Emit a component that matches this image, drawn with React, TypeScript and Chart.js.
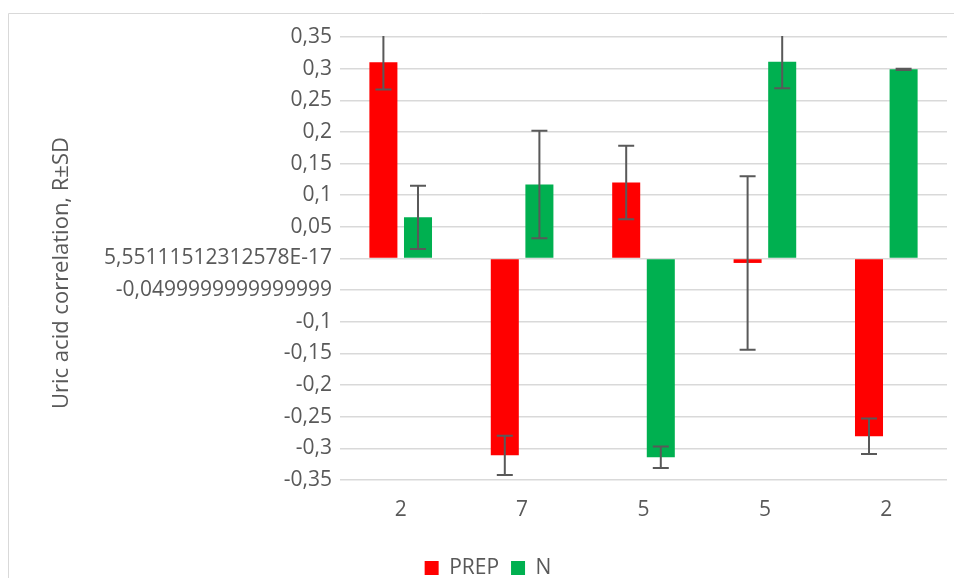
import { useEffect, useRef } from "react";
import { Chart, registerables } from "chart.js";

Chart.register(...registerables);

const categories = ["2", "7", "5", "5", "2"];
const seriesNames = ["PREP", "N"];
const prepValues = [0.31, -0.311, 0.12, -0.007, -0.281];
const prepErrors = [0.043, 0.031, 0.058, 0.137, 0.028];
const nValues = [0.065, 0.117, -0.314, 0.311, 0.299];
const nErrors = [0.05, 0.085, 0.017, 0.042, 0.001];
const yTickLabels = [
  "-0,35",
  "-0,3",
  "-0,25",
  "-0,2",
  "-0,15",
  "-0,1",
  "-0,0499999999999999",
  "5,55111512312578E-17",
  "0,05",
  "0,1",
  "0,15",
  "0,2",
  "0,25",
  "0,3",
  "0,35",
];
const yAxisTitle = "Uric acid correlation, R±SD";

const FONT = "'Open Sans', sans-serif";
const TEXT = "#595959";

export default function App() {
  const ref = useRef<HTMLCanvasElement | null>(null);

  useEffect(() => {
    if (!ref.current) return;
    const values = [prepValues, nValues];
    const errors = [prepErrors, nErrors];

    const errorBars = {
      id: "errorBars",
      afterDatasetsDraw(chart: any) {
        const { ctx, chartArea, scales } = chart;
        const y = scales.y;
        ctx.save();
        ctx.beginPath();
        ctx.rect(chartArea.left, chartArea.top - 1, chartArea.right - chartArea.left, chartArea.bottom - chartArea.top + 2);
        ctx.clip();
        ctx.strokeStyle = "#595959";
        ctx.lineWidth = 2;
        chart.data.datasets.forEach((_: any, d: number) => {
          const meta = chart.getDatasetMeta(d);
          meta.data.forEach((bar: any, i: number) => {
            const v = values[d][i];
            const e = errors[d][i];
            const yt = y.getPixelForValue(v + e);
            const yb = y.getPixelForValue(v - e);
            const x = bar.x;
            ctx.beginPath();
            ctx.moveTo(x, yt);
            ctx.lineTo(x, yb);
            ctx.moveTo(x - 8, yt);
            ctx.lineTo(x + 8, yt);
            ctx.moveTo(x - 8, yb);
            ctx.lineTo(x + 8, yb);
            ctx.stroke();
          });
        });
        ctx.restore();
      },
    };

    const decor = {
      id: "decor",
      beforeDraw(chart: any) {
        const { ctx } = chart;
        ctx.save();
        ctx.strokeStyle = "#d9d9d9";
        ctx.lineWidth = 1;
        ctx.beginPath();
        ctx.moveTo(8.5, 600);
        ctx.lineTo(8.5, 13.5);
        ctx.lineTo(954, 13.5);
        ctx.stroke();
        ctx.restore();
      },
      afterDraw(chart: any) {
        const { ctx } = chart;
        ctx.save();
        ctx.translate(62, 273);
        ctx.rotate(-Math.PI / 2);
        ctx.font = `22px ${FONT}`;
        ctx.fillStyle = TEXT;
        ctx.textAlign = "center";
        ctx.textBaseline = "middle";
        ctx.fillText(yAxisTitle, 0, 0);
        ctx.restore();
      },
    };

    const chart = new Chart(ref.current, {
      type: "bar",
      data: {
        labels: categories,
        datasets: [
          {
            label: seriesNames[0],
            data: prepValues,
            backgroundColor: "#ff0000",
            borderWidth: 0,
          },
          {
            label: seriesNames[1],
            data: nValues,
            backgroundColor: "#00b050",
            borderWidth: 0,
          },
        ],
      },
      options: {
        responsive: false,
        animation: false,
        layout: { padding: { left: 29, right: 7, top: 37, bottom: 11.5 } },
        datasets: {
          bar: { categoryPercentage: 0.57, barPercentage: 0.81 },
        },
        plugins: {
          legend: {
            position: "bottom",
            labels: {
              boxWidth: 14,
              boxHeight: 14,
              padding: 12,
              color: TEXT,
              font: { family: FONT, size: 21 },
            },
          },
          tooltip: { enabled: false },
        },
        scales: {
          x: {
            grid: { display: false, drawTicks: false },
            border: { display: false },
            ticks: { color: TEXT, font: { family: FONT, size: 21 }, padding: 17 },
            afterFit(scale: any) {
              scale.height = 65.5;
            },
          },
          y: {
            min: -0.35,
            max: 0.35,
            grid: { color: "#d9d9d9", lineWidth: 1.5, drawTicks: false },
            border: { display: false },
            ticks: {
              stepSize: 0.05,
              color: TEXT,
              padding: 8,
              font: { family: FONT, size: 21 },
              callback: (_v: any, i: number) => yTickLabels[i],
            },
            afterFit(scale: any) {
              scale.width = 311;
            },
          },
        },
      },
      plugins: [errorBars, decor],
    });
    return () => chart.destroy();
  }, []);

  return (
    <div style={{ position: "fixed", left: 0, top: 0, width: 954, height: 578, overflow: "hidden", background: "#fff" }}>
      <canvas ref={ref} width={954} height={600} style={{ display: "block" }} />
    </div>
  );
}
